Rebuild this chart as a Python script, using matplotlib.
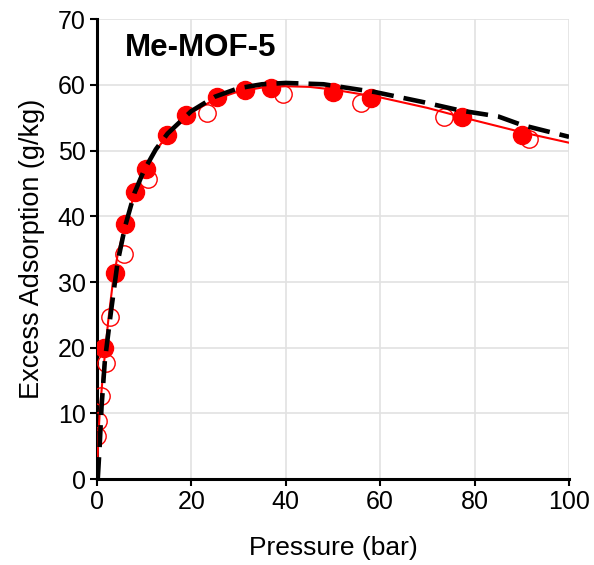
import matplotlib
matplotlib.use('Agg')
import matplotlib.pyplot as plt

plt.rcParams['font.family'] = ['Liberation Sans', 'DejaVu Sans']

# adsorption (filled) and desorption (open) points
ads_p = [1.5, 3.8, 5.9, 8.0, 10.4, 14.8, 18.8, 25.4, 31.3, 36.8, 50.1, 58.1, 77.4, 90.1]
ads_q = [20.0, 31.4, 38.8, 43.7, 47.2, 52.4, 55.4, 58.1, 59.2, 59.5, 58.9, 58.0, 55.1, 52.4]
des_p = [0.0, 0.2, 0.8, 1.9, 2.7, 5.7, 10.8, 23.3, 39.5, 56.0, 73.6, 91.5]
des_q = [6.5, 8.8, 12.6, 17.6, 24.7, 34.3, 45.7, 55.8, 58.6, 57.2, 55.1, 51.7]

# fitted curves
red_p = [0, 0.3, 0.6, 1.3, 2.4, 3.4, 4.5, 6, 8, 10, 12.5, 15, 20, 25, 30, 35, 40, 45, 50, 60, 70, 80, 90, 100]
red_q = [0, 6, 10, 16, 24, 30, 34.5, 38.7, 43.5, 47.0, 50.0, 52.4, 55.8, 57.8, 59.0, 59.6, 59.8, 59.7, 59.3, 58.1, 56.5, 54.6, 52.8, 51.2]
blk_p = [0.2, 0.6, 1.0, 1.7, 3.0, 4.4, 6, 8, 10, 12.5, 15, 20, 25, 30, 35, 40, 48, 59, 69, 77, 85, 90, 100]
blk_q = [0, 5, 11, 18, 25.5, 33, 38.5, 43.6, 47.0, 50.2, 52.6, 56.0, 58.2, 59.5, 60.1, 60.3, 60.1, 58.9, 57.4, 56.1, 55.2, 53.9, 52.1]

fig = plt.figure(figsize=(5.94, 5.65), dpi=100)
ax = fig.add_axes([0.163, 0.152, 0.795, 0.814])

ax.plot(des_p, des_q, 'o', ms=12.5, mfc='none', mec='red', mew=1.0, zorder=3)
ax.plot(ads_p, ads_q, 'o', ms=13, mfc='red', mec='red', zorder=4)
ax.plot(red_p, red_q, '-', color='red', lw=1.5, zorder=5)
ax.plot(blk_p, blk_q, '--', color='black', lw=3.3, dashes=(4.8, 2.2), zorder=6)

ax.set_xlim(0, 100)
ax.set_ylim(0, 70)
ax.set_xticks([0, 20, 40, 60, 80, 100])
ax.set_yticks([0, 10, 20, 30, 40, 50, 60, 70])
ax.grid(True, color='#e2e2e2', lw=1.2)
ax.set_axisbelow(True)
for s in ['top', 'right']:
    ax.spines[s].set_visible(False)
for s in ['left', 'bottom']:
    ax.spines[s].set_linewidth(2.2)
ax.tick_params(direction='out', length=5, width=1.5, labelsize=18, pad=3)

ax.set_xlabel('Pressure (bar)', fontsize=19, labelpad=16)
ax.set_ylabel('Excess Adsorption (g/kg)', fontsize=19.5, labelpad=9)
ax.text(0.059, 0.937, 'Me-MOF-5', transform=ax.transAxes, fontsize=22.5,
        fontweight='bold', va='center', ha='left')

fig.savefig('out.png', dpi=100)
